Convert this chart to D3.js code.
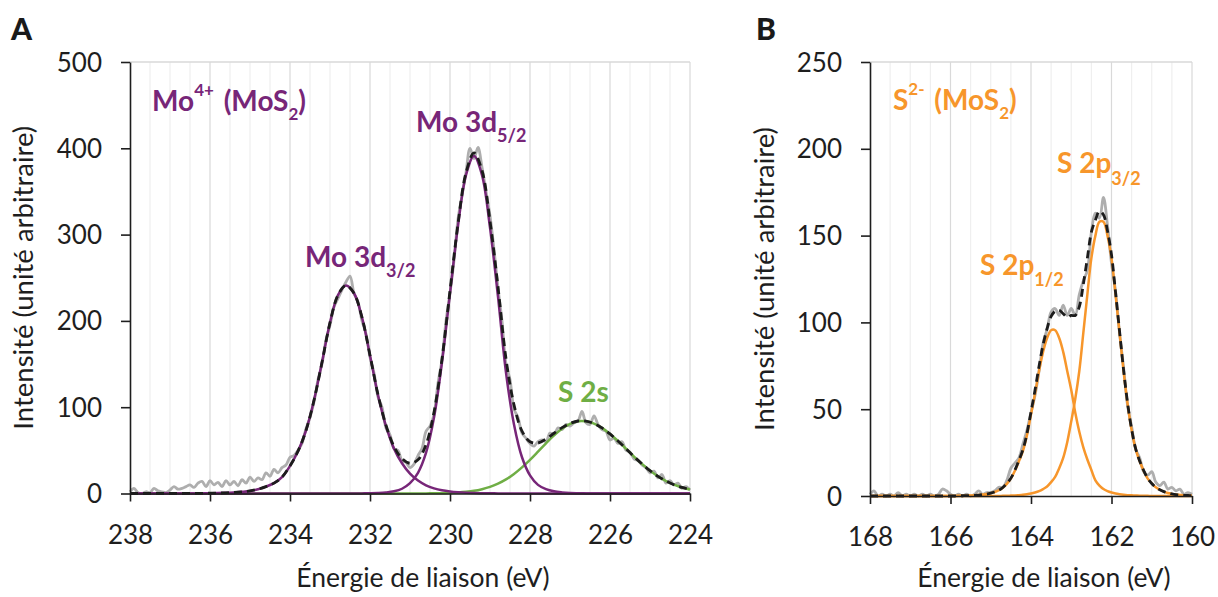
<!DOCTYPE html>
<html><head><meta charset="utf-8">
<script src="https://cdn.jsdelivr.net/npm/d3@7"></script>
<style>
body{margin:0;background:#fff}
svg{display:block}
text{font-family:Lato,"Open Sans",sans-serif}
</style>
</head><body>
<svg id="c" width="1218" height="597"></svg>
<script>
// ---------- Panel A : Mo 3d region ----------
const xTicksA = [238,236,234,232,230,228,226,224];
const yTicksA = [0,100,200,300,400,500];
const fitStartA = 238, fitStepA = 0.2;   // energy grid of fitted curves (eV, decreasing)
const mo32 = [0,0,0,0,0,0,0,0.05,0.1,0.2,0.3,0.5,0.8,1.3,2,3,5,8,12,19,32,49,73,108,152,198,230,241,232,204,160,114,78,52,35,23,15,9.5,6,3.7,2.3,1.4,0.8,0.5,0.3,0.2,0.1,0,0,0,0,0,0,0,0,0,0,0,0,0,0,0,0,0,0,0,0,0,0,0,0];
const mo52 = [0,0,0,0,0,0,0,0,0,0,0,0,0,0,0,0,0,0,0,0,0,0,0,0,0,0,0,0,0,0.1,0.3,0.6,1.2,2.5,5.5,12,24,47,88,152,232,310,369,391,369,308,228,140,80,42,21,10,5,2.5,1.3,0.6,0.3,0.1,0,0,0,0,0,0,0,0,0,0,0,0,0];
const s2s  = [0,0,0,0,0,0,0,0,0,0,0,0,0,0,0,0,0,0,0,0,0,0,0,0,0,0,0,0,0,0,0,0,0,0,0,0,0,0.1,0.2,0.3,0.6,1.1,1.9,3.1,5,7.6,11.4,16.3,22.7,30.3,39,48.5,58.2,67.3,75,80.6,83.7,83.7,81,76,69,60.8,51.9,42.8,34.3,26.5,19.9,14.5,10.2,7,4.6];
const envA = [0,0,0,0,0,0,0,0.05,0.1,0.2,0.3,0.5,0.8,1.3,2,3,5,8,12,19,32,49,73,108,152,198,230,241,232,204.1,160.3,114.6,79.2,54.5,40.5,35,39,56.6,94.2,156,234.9,312.5,371.7,394.6,374.3,315.8,239.5,156.3,102.7,72.3,60,58.5,63.2,69.8,76.3,81.2,84,83.8,81,76,69,60.8,51.9,42.8,34.3,26.5,19.9,14.5,10.2,7,4.6];
const rawStartA = 238, rawStepA = 0.1;
const rawA = [2,6,1,0,2,1,6,3,2,1,4,8,5,6,8,10,7,12,14,8,15,10,13,8,15,10,14,9,16,12,19,14,18,16,24,20,28,24,30,33,42,44,50,58,75,88,106,132,150,178,195,216,226,236,245,252,232,222,200,185,158,140,112,100,76,68,52,50,38,36,30,34,44,52,72,78,92,128,155,200,232,270,318,345,372,400,388,401,378,350,322,283,238,200,150,132,98,88,70,64,58,55,60,62,60,70,68,76,74,80,78,82,84,95,82,80,90,80,74,72,62,64,58,60,50,48,40,38,33,30,24,26,18,22,12,15,10,12,6,8,4];

// ---------- Panel B : S 2p region ----------
const xTicksB = [168,166,164,162,160];
const yTicksB = [0,50,100,150,200,250];
const startB = 168, stepB = 0.1;
const p12 = [0,0,0,0,0,0,0,0,0,0,0,0,0,0,0,0,0,0,0,0,0,0,0.1,0.15,0.2,0.3,0.4,0.55,0.8,1.1,1.6,2.3,3.3,4.8,7,10,14.5,20,26,35,47,59,72,83,91,95.5,95.5,91,83,72,61,48,37,28,21,15,9,6,4,2.8,2,1.4,1,0.7,0.5,0.4,0.3,0.2,0.15,0.1,0,0,0,0,0,0,0,0,0,0,0];
const p32 = [0,0,0,0,0,0,0,0,0,0,0,0,0,0,0,0,0,0,0,0,0,0,0,0,0,0,0,0,0,0,0,0,0,0.1,0.15,0.25,0.35,0.5,0.7,1,1.4,2,2.8,4,5.5,8,11,16,22,31,43,56,72,94,116,137,150,158,158,150,137,116,94,72,53,38,27,20,14.5,10,7.2,5,3.6,2.5,1.7,1.2,0.8,0.6,0.4,0.3,0.2];
const envB = [0,0,0,0,0,0,0,0,0,0,0,0,0,0,0,0,0,0,0,0,0,0,0.1,0.15,0.2,0.3,0.4,0.55,0.8,1.1,1.6,2.3,3.3,4.9,7.2,10.3,14.9,20.5,26.7,36,48.4,61,74.8,87,96.5,103.5,106.5,107,105,103,104,104,109,122,137,152,159,164,162,152.8,139,117.4,95,72.7,53.5,38.4,27.3,20.2,14.7,10.1,7.2,5,3.6,2.5,1.7,1.2,0.8,0.6,0.4,0.3,0.2];
const rawB = [1,3,0,1,0,1,0,2,0,1,0,1,0,1,0,1,0,1,4,3,1,0,1,0,1,0,1,3,1,2,2,3,5,5,9,16,19,22,30,38,48,58,72,88,96,106,108,104,110,104,108,104,116,124,130,152,163,160,172,156,134,118,94,74,52,40,27,22,14,12,14,8,6,8,4,5,3,4,1,2,1];

// ---------- styles ----------
const PURPLE = "#772678", GREEN = "#6fae45", ORANGE = "#f7962b", GRAY = "#aeaeae", DARK = "#1e1e1e";

const svg = d3.select("#c");

function toPts(start, step, arr){ return arr.map((v,i)=>({e: +(start - i*step).toFixed(2), v})); }

function panel(opt){
  const x = d3.scaleLinear().domain(opt.xDom).range(opt.xRange);
  const y = d3.scaleLinear().domain(opt.yDom).range(opt.yRange);
  const g = svg.append("g");
  const [x0,x1] = opt.xRange, [y0,y1] = opt.yRange;
  // minor/major vertical grid every 0.5 eV
  const grid = d3.range(opt.xDom[0]*2, opt.xDom[1]*2 - 1, -1).map(v=>v/2).filter(v=>v!==opt.xDom[0]);
  g.selectAll(".gl").data(grid).join("line")
    .attr("x1",d=>x(d)).attr("x2",d=>x(d)).attr("y1",y0).attr("y2",y1)
    .attr("stroke",d=> (d%2===0)? "#d9d9d9":"#efefef").attr("stroke-width",1.2);
  // top border
  g.append("line").attr("x1",x0).attr("x2",x1).attr("y1",y1).attr("y2",y1).attr("stroke","#d9d9d9").attr("stroke-width",1.5);

  const line = d3.line().x(d=>x(d.e)).y(d=>y(d.v)).curve(d3.curveCatmullRom.alpha(0.5));
  // raw data
  g.append("path").attr("d", line(opt.raw)).attr("fill","none").attr("stroke",GRAY).attr("stroke-width",2.8).attr("stroke-linejoin","round");
  // components
  opt.comps.forEach(c=>{
    g.append("path").attr("d", line(c.pts)).attr("fill","none").attr("stroke",c.color).attr("stroke-width",2.5);
  });
  // envelope
  g.append("path").attr("d", line(opt.env)).attr("fill","none").attr("stroke","#1c1c1c").attr("stroke-width",2.8).attr("stroke-dasharray","8,5");

  // axes
  const ax = g.append("g").attr("transform",`translate(0,${y0})`)
    .call(d3.axisBottom(x).tickValues(opt.xTicks).tickSize(8).tickSizeOuter(0).tickFormat(d3.format("d")));
  const ay = g.append("g").attr("transform",`translate(${x0},0)`)
    .call(d3.axisLeft(y).tickValues(opt.yTicks).tickSize(9).tickSizeOuter(0).tickFormat(d3.format("d")));
  [ax,ay].forEach(a=>{
    a.select(".domain").attr("stroke",DARK).attr("stroke-width",1.6);
    a.selectAll(".tick line").attr("stroke",DARK).attr("stroke-width",1.6);
    a.selectAll(".tick text").attr("fill",DARK).attr("font-size",26).attr("font-family","Lato, 'Open Sans', sans-serif");
  });
  ax.selectAll(".tick text").attr("dy",null).attr("y",50);
  ay.selectAll(".tick text").attr("dy",null).attr("x",-28).attr("y",9);

  // axis titles
  g.append("text").attr("x",(x0+x1)/2+13).attr("y",587).attr("text-anchor","middle")
    .attr("font-size",26.5).attr("fill",DARK).text("Énergie de liaison (eV)");
  g.append("text").attr("transform",`translate(${opt.yTitleX},${(y0+y1)/2}) rotate(-90)`)
    .attr("text-anchor","middle").attr("font-size",27.5).attr("fill",DARK).text("Intensité (unité arbitraire)");
  // panel letter
  g.append("text").attr("x",opt.letterX).attr("y",40).attr("font-size",30).attr("font-weight","900").attr("fill","#1a1a1a").text(opt.letter);
  return g;
}

function rich(x, y, parts, color, size){
  const t = svg.append("text").attr("x",x).attr("y",y).attr("fill",color)
    .attr("font-weight","bold").attr("font-size",size);
  let cur = 0;
  parts.forEach(p=>{
    const sh = p.sh || 0;
    const s = t.append("tspan").attr("dy", sh-cur).attr("font-size", p.fs || size).text(p.t);
    if (p.dx) s.attr("dx", p.dx);
    cur = sh;
  });
}

panel({
  xDom:[238,224], xRange:[130,690], yDom:[0,500], yRange:[493.5,62],
  xTicks:xTicksA, yTicks:yTicksA, yTitleX:33, letter:"A", letterX:11,
  raw: toPts(rawStartA, rawStepA, rawA),
  comps:[
    {pts: toPts(fitStartA, fitStepA, s2s), color: GREEN},
    {pts: toPts(fitStartA, fitStepA, mo32), color: PURPLE},
    {pts: toPts(fitStartA, fitStepA, mo52), color: PURPLE}
  ],
  env: toPts(fitStartA, fitStepA, envA)
});

panel({
  xDom:[168,160], xRange:[870,1192], yDom:[0,250], yRange:[496,62],
  xTicks:xTicksB, yTicks:yTicksB, yTitleX:774, letter:"B", letterX:756,
  raw: toPts(startB, stepB, rawB),
  comps:[
    {pts: toPts(startB, stepB, p12), color: ORANGE},
    {pts: toPts(startB, stepB, p32), color: ORANGE}
  ],
  env: toPts(startB, stepB, envB)
});

// annotations
rich(152, 111, [{t:"Mo"},{t:"4+",fs:17,sh:-15},{t:" (MoS",dx:3},{t:"2",fs:17,sh:9},{t:")"}], PURPLE, 28);
rich(416, 132, [{t:"Mo 3d"},{t:"5/2",fs:18,sh:10}], PURPLE, 28);
rich(305, 267, [{t:"Mo 3d"},{t:"3/2",fs:18,sh:10}], PURPLE, 28);
rich(558, 402, [{t:"S 2s"}], GREEN, 28);
rich(893, 110, [{t:"S"},{t:"2-",fs:17,sh:-15},{t:" (MoS",dx:3},{t:"2",fs:17,sh:9},{t:")"}], ORANGE, 28);
rich(1057, 173, [{t:"S 2p"},{t:"3/2",fs:18,sh:12}], ORANGE, 28);
rich(980, 275, [{t:"S 2p"},{t:"1/2",fs:18,sh:11}], ORANGE, 28);
</script>
</body></html>
